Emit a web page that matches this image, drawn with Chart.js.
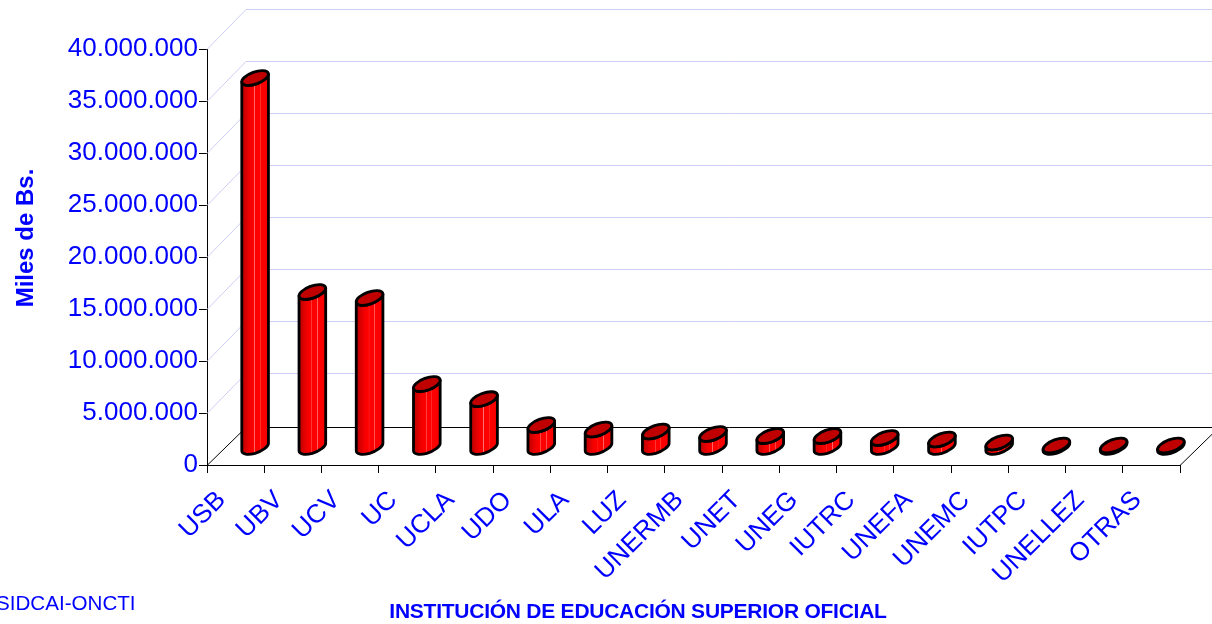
<!DOCTYPE html>
<html>
<head>
<meta charset="utf-8">
<style>
  html, body { margin: 0; padding: 0; background: #fff; overflow: hidden; }
  canvas { display: block; }
</style>
<script src="https://cdn.jsdelivr.net/npm/chart.js@4/dist/chart.umd.min.js"></script>
</head>
<body>
<canvas id="chart" width="1212" height="624"></canvas>
<script>
const categories = ["USB", "UBV", "UCV", "UC", "UCLA", "UDO", "ULA", "LUZ", "UNERMB", "UNET", "UNEG", "IUTRC", "UNEFA", "UNEMC", "IUTPC", "UNELLEZ", "OTRAS"];
const montos = [35530000, 14950000, 14380000, 6100000, 4650000, 2160000, 1730000, 1540000, 1300000, 1100000, 1100000, 910000, 770000, 480000, 190000, 190000, 190000];
const yTickLabels = ["0", "5.000.000", "10.000.000", "15.000.000", "20.000.000", "25.000.000", "30.000.000", "35.000.000", "40.000.000"];

const BLUE = "#0000FF";
const FONT = '"Liberation Sans", Arial, sans-serif';
const DEPTH_X = 39, WALL_Y = -40, FLOOR_Y = -38;
const MID_Y = -17.5;

// paredes en perspectiva detras de las barras
const wallsPlugin = {
  id: "walls",
  beforeDatasetsDraw(chart) {
    const { ctx, chartArea: a, scales: { y } } = chart;
    ctx.save();
    ctx.lineWidth = 1;
    y.ticks.forEach((t) => {
      if (t.value === 0) return;
      const py = Math.round(y.getPixelForValue(t.value)) + 0.5;
      ctx.strokeStyle = "#CDCDF5";
      ctx.beginPath();
      ctx.moveTo(a.left, py);
      ctx.lineTo(a.left + DEPTH_X, py + WALL_Y);
      ctx.lineTo(a.right + DEPTH_X, py + WALL_Y);
      ctx.stroke();
    });
    const by = Math.round(a.bottom) + 0.5;
    ctx.strokeStyle = "#000";
    ctx.beginPath();
    ctx.moveTo(a.left, by);
    ctx.lineTo(a.left + DEPTH_X, by + FLOOR_Y);
    ctx.lineTo(a.right + DEPTH_X, by + FLOOR_Y);
    ctx.lineTo(a.right, by);
    ctx.stroke();
    ctx.restore();
  },
};

// cilindros a partir de las barras de la libreria
const cylinderPlugin = {
  id: "cylinders",
  afterDatasetsDraw(chart) {
    const { ctx } = chart;
    const phi = (-20 * Math.PI) / 180;
    chart.getDatasetMeta(0).data.forEach((bar) => {
      const a = bar.width * 0.5, b = 6;
      const cx = bar.x + DEPTH_X / 2;
      const top = bar.y + MID_Y;
      const bottom = bar.base + MID_Y;
      const t0 = Math.atan((-b / a) * Math.tan(phi));
      const halfW = bar.width / 2;

      const grad = ctx.createLinearGradient(cx - halfW, 0, cx + halfW, 0);
      grad.addColorStop(0, "#B40000");
      grad.addColorStop(0.32, "#F40000");
      grad.addColorStop(0.46, "#FF0000");
      grad.addColorStop(0.48, "#FF7070");
      grad.addColorStop(0.5, "#FF0000");
      grad.addColorStop(0.66, "#FF0000");
      grad.addColorStop(0.68, "#FF7070");
      grad.addColorStop(0.7, "#FF0000");
      grad.addColorStop(0.9, "#F80000");
      grad.addColorStop(1, "#D00000");

      ctx.save();
      ctx.lineWidth = 2.8;
      ctx.strokeStyle = "#000";
      ctx.lineJoin = "round";
      ctx.beginPath();
      ctx.ellipse(cx, bottom, a, b, phi, t0, t0 + Math.PI);
      ctx.ellipse(cx, top, a, b, phi, t0 + Math.PI, t0, true);
      ctx.closePath();
      ctx.fillStyle = grad;
      ctx.fill();
      ctx.stroke();

      ctx.beginPath();
      ctx.ellipse(cx, top, a, b, phi, 0, Math.PI * 2);
      ctx.fillStyle = "#C00000";
      ctx.fill();
      ctx.stroke();
      ctx.restore();
    });
  },
};

const textPlugin = {
  id: "extraText",
  afterDraw(chart) {
    const { ctx } = chart;
    ctx.save();
    ctx.fillStyle = BLUE;
    ctx.textBaseline = "middle";
    ctx.font = "20.6px " + FONT;
    ctx.textAlign = "left";
    ctx.fillText("SIDCAI-ONCTI", -4, 604);
    ctx.font = "bold 21px " + FONT;
    ctx.textAlign = "center";
    ctx.letterSpacing = "-0.25px";
    ctx.fillText("INSTITUCIÓN DE EDUCACIÓN SUPERIOR OFICIAL", 638, 612);
    ctx.letterSpacing = "0px";
    ctx.translate(26, 238);
    ctx.rotate(-Math.PI / 2);
    ctx.font = "bold 24px " + FONT;
    ctx.fillText("Miles de Bs.", 0, 0);
    ctx.restore();
  },
};

new Chart(document.getElementById("chart"), {
  type: "bar",
  data: {
    labels: categories,
    datasets: [
      {
        label: "Miles de Bs.",
        data: montos,
        backgroundColor: "rgba(0,0,0,0)",
        borderWidth: 0,
        barPercentage: 0.49,
        categoryPercentage: 1,
      },
    ],
  },
  plugins: [wallsPlugin, cylinderPlugin, textPlugin],
  options: {
    responsive: false,
    animation: false,
    layout: { padding: { top: 49, right: 32, left: 0, bottom: 0 } },
    plugins: { legend: { display: false }, tooltip: { enabled: false } },
    scales: {
      x: {
        afterFit(scale) { scale.height = 159; },
        grid: { offset: true, drawOnChartArea: false, color: "#000", tickLength: 8 },
        border: { color: "#000" },
        ticks: {
          color: BLUE,
          font: { family: FONT, size: 26 },
          minRotation: 45,
          maxRotation: 45,
          autoSkip: false,
          labelOffset: -14,
          padding: 12,
        },
      },
      y: {
        min: 0,
        max: 40000000,
        afterFit(scale) { scale.width = 207; },
        grid: { drawOnChartArea: false, color: "#000", tickLength: 8 },
        border: { color: "#000" },
        ticks: {
          stepSize: 5000000,
          color: BLUE,
          font: { family: FONT, size: 26 },
          padding: 1,
          labelOffset: 0,
          callback: (v, i) => yTickLabels[i],
        },
      },
    },
  },
});
</script>
</body>
</html>
